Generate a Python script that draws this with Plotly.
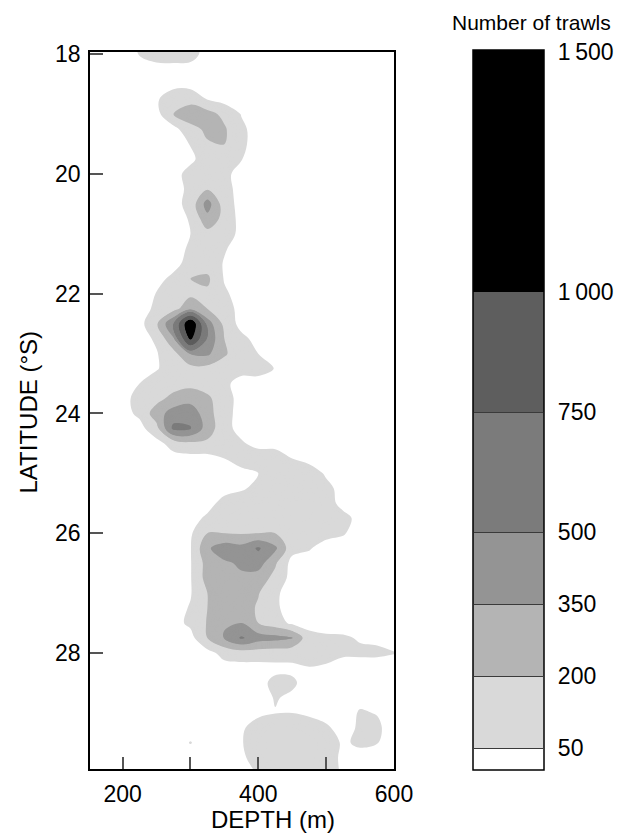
import plotly.graph_objects as go

# Depth grid (m) and latitude grid (deg S)
depth = [150, 175, 200, 225, 250, 275, 300, 325, 350, 375, 400, 425, 450, 475, 500, 525, 550, 575, 600]
latitude = [17.75, 18.0, 18.25, 18.5, 18.75, 19.0, 19.25, 19.5, 19.75, 20.0,
            20.25, 20.5, 20.75, 21.0, 21.25, 21.5, 21.75, 22.0, 22.25, 22.5,
            22.75, 23.0, 23.25, 23.5, 23.75, 24.0, 24.25, 24.5, 24.75, 25.0,
            25.25, 25.5, 25.75, 26.0, 26.25, 26.5, 26.75, 27.0, 27.25, 27.5,
            27.75, 28.0, 28.25, 28.5, 28.75, 29.0, 29.25, 29.5, 29.75, 30.0]

# Number of trawls, one row per latitude (columns follow depth)
trawls = [
    [0, 0, 0, 60, 120, 120, 100, 0, 0, 0, 0, 0, 0, 0, 0, 0, 0, 0, 0],
    [0, 0, 0, 55, 110, 120, 100, 0, 0, 0, 0, 0, 0, 0, 0, 0, 0, 0, 0],
    [0, 0, 0, 0, 0, 0, 0, 0, 0, 0, 0, 0, 0, 0, 0, 0, 0, 0, 0],
    [0, 0, 0, 0, 0, 0, 0, 0, 0, 0, 0, 0, 0, 0, 0, 0, 0, 0, 0],
    [0, 0, 0, 0, 30, 150, 150, 45, 0, 0, 0, 0, 0, 0, 0, 0, 0, 0, 0],
    [0, 0, 0, 0, 0, 200, 290, 260, 160, 45, 0, 0, 0, 0, 0, 0, 0, 0, 0],
    [0, 0, 0, 0, 0, 0, 150, 230, 220, 75, 0, 0, 0, 0, 0, 0, 0, 0, 0],
    [0, 0, 0, 0, 0, 0, 55, 185, 200, 75, 0, 0, 0, 0, 0, 0, 0, 0, 0],
    [0, 0, 0, 0, 0, 0, 20, 120, 150, 55, 0, 0, 0, 0, 0, 0, 0, 0, 0],
    [0, 0, 0, 0, 0, 0, 100, 150, 85, 0, 0, 0, 0, 0, 0, 0, 0, 0, 0],
    [0, 0, 0, 0, 0, 0, 80, 190, 100, 0, 0, 0, 0, 0, 0, 0, 0, 0, 0],
    [0, 0, 0, 0, 0, 0, 100, 420, 120, 0, 0, 0, 0, 0, 0, 0, 0, 0, 0],
    [0, 0, 0, 0, 0, 0, 60, 300, 150, 0, 0, 0, 0, 0, 0, 0, 0, 0, 0],
    [0, 0, 0, 0, 0, 0, 50, 150, 140, 0, 0, 0, 0, 0, 0, 0, 0, 0, 0],
    [0, 0, 0, 0, 0, 0, 70, 150, 60, 0, 0, 0, 0, 0, 0, 0, 0, 0, 0],
    [0, 0, 0, 0, 0, 0, 110, 130, 40, 0, 0, 0, 0, 0, 0, 0, 0, 0, 0],
    [0, 0, 0, 0, 0, 90, 200, 230, 40, 0, 0, 0, 0, 0, 0, 0, 0, 0, 0],
    [0, 0, 0, 0, 55, 140, 170, 170, 70, 0, 0, 0, 0, 0, 0, 0, 0, 0, 0],
    [0, 0, 0, 0, 75, 150, 300, 200, 120, 0, 0, 0, 0, 0, 0, 0, 0, 0, 0],
    [0, 0, 0, 0, 180, 500, 1250, 430, 160, 0, 0, 0, 0, 0, 0, 0, 0, 0, 0],
    [0, 0, 0, 0, 70, 330, 1050, 480, 200, 90, 0, 0, 0, 0, 0, 0, 0, 0, 0],
    [0, 0, 0, 0, 40, 150, 360, 380, 220, 110, 50, 0, 0, 0, 0, 0, 0, 0, 0],
    [0, 0, 0, 0, 40, 110, 150, 150, 120, 100, 100, 45, 0, 0, 0, 0, 0, 0, 0],
    [0, 0, 0, 50, 110, 130, 160, 130, 80, 0, 0, 0, 0, 0, 0, 0, 0, 0, 0],
    [0, 0, 0, 105, 150, 250, 290, 230, 110, 0, 0, 0, 0, 0, 0, 0, 0, 0, 0],
    [0, 0, 0, 80, 280, 420, 450, 260, 100, 0, 0, 0, 0, 0, 0, 0, 0, 0, 0],
    [0, 0, 0, 0, 150, 540, 510, 280, 100, 0, 0, 0, 0, 0, 0, 0, 0, 0, 0],
    [0, 0, 0, 0, 0, 110, 170, 170, 140, 70, 0, 0, 0, 0, 0, 0, 0, 0, 0],
    [0, 0, 0, 0, 0, 0, 0, 0, 50, 130, 140, 130, 50, 0, 0, 0, 0, 0, 0],
    [0, 0, 0, 0, 0, 0, 0, 0, 0, 0, 50, 130, 140, 130, 30, 0, 0, 0, 0],
    [0, 0, 0, 0, 0, 0, 0, 0, 0, 30, 90, 100, 80, 110, 90, 0, 0, 0, 0],
    [0, 0, 0, 0, 0, 0, 0, 0, 100, 140, 150, 150, 150, 150, 120, 0, 0, 0, 0],
    [0, 0, 0, 0, 0, 0, 0, 75, 150, 170, 170, 170, 150, 140, 130, 100, 0, 0, 0],
    [0, 0, 0, 0, 0, 0, 30, 200, 200, 190, 200, 200, 130, 110, 90, 60, 0, 0, 0],
    [0, 0, 0, 0, 0, 0, 40, 330, 430, 400, 520, 380, 100, 60, 0, 0, 0, 0, 0],
    [0, 0, 0, 0, 0, 0, 40, 260, 330, 370, 420, 220, 0, 0, 0, 0, 0, 0, 0],
    [0, 0, 0, 0, 0, 0, 40, 260, 300, 330, 280, 155, 0, 0, 0, 0, 0, 0, 0],
    [0, 0, 0, 0, 0, 0, 40, 200, 330, 300, 210, 70, 0, 0, 0, 0, 0, 0, 0],
    [0, 0, 0, 0, 0, 0, 60, 200, 300, 280, 180, 70, 0, 0, 0, 0, 0, 0, 0],
    [0, 0, 0, 0, 0, 0, 80, 210, 340, 350, 200, 120, 20, 0, 0, 0, 0, 0, 0],
    [0, 0, 0, 0, 0, 0, 0, 200, 360, 520, 420, 400, 360, 100, 70, 65, 40, 30, 0],
    [0, 0, 0, 0, 0, 0, 0, 0, 100, 130, 130, 120, 100, 110, 90, 70, 70, 70, 55],
    [0, 0, 0, 0, 0, 0, 0, 0, 0, 0, 0, 10, 25, 45, 35, 0, 0, 0, 0],
    [0, 0, 0, 0, 0, 0, 0, 0, 0, 0, 0, 90, 70, 0, 0, 0, 0, 0, 0],
    [0, 0, 0, 0, 0, 0, 0, 0, 0, 0, 0, 58, 30, 0, 0, 0, 20, 0, 0],
    [0, 0, 0, 0, 0, 0, 0, 0, 0, 0, 20, 45, 48, 20, 0, 0, 60, 45, 0],
    [0, 0, 0, 0, 0, 0, 0, 0, 0, 30, 110, 140, 140, 130, 70, 0, 70, 70, 0],
    [0, 0, 0, 0, 0, 0, 55, 0, 0, 40, 130, 150, 150, 150, 130, 30, 75, 55, 0],
    [0, 0, 0, 0, 0, 0, 0, 0, 0, 20, 120, 150, 150, 150, 120, 20, 0, 0, 0],
    [0, 0, 0, 0, 0, 0, 0, 0, 0, 0, 60, 130, 140, 140, 120, 30, 0, 0, 0],
]

# Class boundaries and their grey fills
level_bounds = [50, 200, 350, 500, 750, 1000, 1500]
level_colors = ["#ffffff", "#d9d9d9", "#b4b4b4", "#949494", "#7b7b7b", "#5e5e5e", "#000000"]
cbar_tickvals = [50, 200, 350, 500, 750, 1000, 1500]
cbar_ticktext = ["50", "200", "350", "500", "750", "1\u2009000", "1\u2009500"]
x_tickvals = [200, 300, 400, 500, 600]
x_ticktext = ["200", "", "400", "", "600"]
y_tickvals = [18, 20, 22, 24, 26, 28]

FONT = "Arial, 'Liberation Sans', sans-serif"

# contour level settings (uniform steps that hit every class boundary)
c_start, c_end, c_size = 10, 1500, 10
lo, hi = c_start - c_size / 2, c_end + c_size / 2


def pos(v):
    return min(max((v - lo) / (hi - lo), 0), 1)


colorscale = [[0, level_colors[0]]]
for i, b in enumerate(level_bounds[:-1]):
    colorscale.append([pos(b), level_colors[i]])
    colorscale.append([pos(b), level_colors[i + 1]])
colorscale.append([1, level_colors[-1]])

# page geometry (the page body adds an 8px offset)
OFF = 8
PAGE_W, PAGE_H = 628, 837
PL, PT, PR, PB = 90, 52, 394, 769          # plot box in page pixels
W, H = PAGE_W - OFF, PAGE_H - OFF
ML, MT = PL - OFF, PT - OFF
MR = W - (PR - OFF)
MB = H - (PB - OFF)
PW, PH = PR - PL, PB - PT


def px_x(x):
    return (x - PL) / PW


def px_y(y):
    return (PB - y) / PH


cb_left_px, cb_thick, cb_top_px, cb_bot_px = 473, 71, 50, 770
cb_len = cb_bot_px - cb_top_px
cb_x = px_x(cb_left_px)
cb_y = px_y((cb_top_px + cb_bot_px) / 2)

fig = go.Figure()
fig.add_trace(go.Contour(
    x=depth, y=latitude, z=trawls,
    colorscale=colorscale,
    contours=dict(start=c_start, end=c_end, size=c_size, coloring="fill", showlines=False),
    line=dict(width=0, smoothing=1),
    hoverinfo="skip",
    colorbar=dict(
        x=cb_x, xanchor="left", xpad=0,
        y=cb_y, yanchor="middle", ypad=0,
        len=cb_len, lenmode="pixels",
        thickness=cb_thick, thicknessmode="pixels",
        outlinewidth=1.5, outlinecolor="#000000",
        tickmode="array", tickvals=cbar_tickvals, ticktext=cbar_ticktext,
        ticks="outside", ticklen=9, tickcolor="rgba(0,0,0,0)",
        tickfont=dict(family=FONT, size=23, color="#000000"),
    ),
))

# thin separators inside the colour bar at the class boundaries
cb_y0_paper = px_y(cb_bot_px)
for b in level_bounds[:-2]:
    yp = cb_y0_paper + (b - lo) / (hi - lo) * cb_len / PH
    fig.add_annotation(text=" ", xref="paper", yref="paper",
                       x=cb_x + cb_thick / PW / 2, y=yp, showarrow=False,
                       xanchor="center", yanchor="middle",
                       width=cb_thick - 2, height=1, borderpad=0, borderwidth=0,
                       bgcolor="#3a3a3a", font=dict(size=1))

fig.add_annotation(text="Number of trawls", xref="paper", yref="paper",
                   x=px_x(531), y=px_y(22), showarrow=False,
                   xanchor="center", yanchor="middle",
                   font=dict(family=FONT, size=21, color="#000000"))
fig.add_annotation(text="DEPTH (m)", xref="paper", yref="paper",
                   x=px_x(273), y=px_y(820), showarrow=False,
                   xanchor="center", yanchor="middle",
                   font=dict(family=FONT, size=24, color="#000000"))
fig.add_annotation(text="LATITUDE (°S)", xref="paper", yref="paper",
                   x=px_x(27.5), y=px_y(412), showarrow=False,
                   textangle=-90, xanchor="center", yanchor="middle",
                   font=dict(family=FONT, size=24, color="#000000"))

fig.update_layout(
    width=W, height=H,
    margin=dict(l=ML, r=MR, t=MT, b=MB, pad=0),
    paper_bgcolor="white", plot_bgcolor="white",
    font=dict(family=FONT, size=23, color="#000000"),
    xaxis=dict(range=[152, 600], tickmode="array", tickvals=x_tickvals, ticktext=x_ticktext,
               ticks="inside", ticklen=12, tickwidth=2, tickcolor="#555555",
               showline=True, linecolor="#000000", linewidth=1.5, mirror=True,
               showgrid=False, zeroline=False, ticklabelstandoff=4,
               tickfont=dict(family=FONT, size=23)),
    yaxis=dict(range=[29.94, 17.96], tickmode="array", tickvals=y_tickvals,
               ticks="inside", ticklen=13, tickwidth=2, tickcolor="#555555",
               showline=True, linecolor="#000000", linewidth=1.5, mirror=True,
               showgrid=False, zeroline=False, ticklabelstandoff=3,
               tickfont=dict(family=FONT, size=23)),
)

fig.write_html("out.html")
